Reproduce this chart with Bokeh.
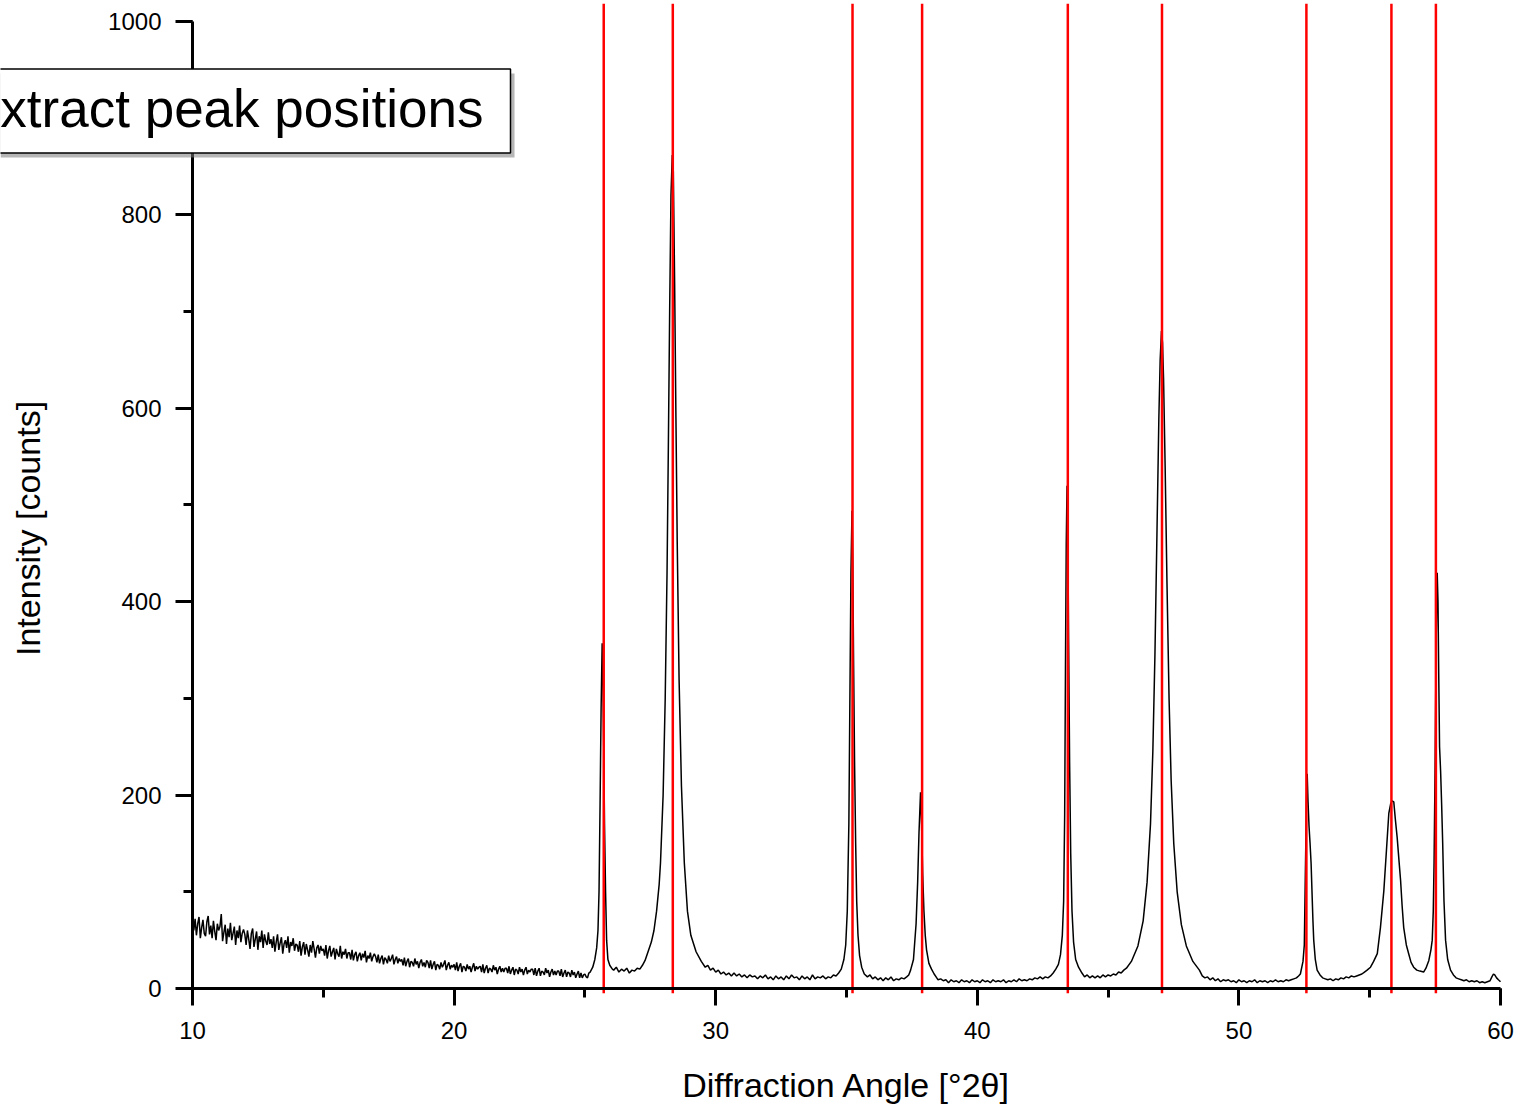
import math
from bokeh.plotting import figure
from bokeh.models import (Label, BoxAnnotation, SingleIntervalTicker,
                          Range1d, LinearAxis)
from bokeh.embed import file_html
from bokeh.resources import INLINE

# ---- data ----
# low-angle background: scan grid starts at 10.00 deg with 0.05 deg steps
low_start = 10.0
low_step = 0.05
low_counts = [
    78,60,72,55,67,74,52,63,71,57,54,69,75,56,65,52,70,59,50,67,
    60,64,77,49,58,66,46,62,53,68,50,57,64,45,60,52,65,48,57,61,
    56,45,60,51,41,57,62,43,51,59,40,54,48,60,42,56,49,45,58,46,
    51,42,54,38,48,56,40,47,53,36,46,50,42,54,37,48,44,52,39,46,
    45,38,49,34,43,48,35,46,40,33,45,37,49,41,32,42,45,36,44,39,
    41,34,45,31,39,44,33,38,42,30,41,36,33,44,31,38,35,41,31,37,
    37,30,40,29,35,38,28,34,37,29,36,32,39,27,34,31,37,28,33,36,
    33,27,35,26,31,34,25,32,30,26,34,28,31,35,25,30,33,26,31,28,
    30,24,32,23,28,31,22,28,27,23,31,25,28,21,27,30,23,27,22,29,
    27,21,29,20,25,28,19,25,24,20,27,22,25,29,19,24,27,20,24,22,
    25,19,27,18,23,26,17,23,22,18,25,20,23,17,22,26,18,23,20,22,
    23,17,25,16,21,24,16,21,20,17,24,19,22,15,20,23,17,21,17,21,
    21,16,23,15,19,22,14,20,19,15,22,17,20,14,19,22,15,19,17,20,
    20,14,21,13,18,21,13,18,17,14,21,16,19,12,17,20,14,18,14,18,
    18,13,20,12,16,19,12,17,16,12,19,14,17,11,15,18,11,16,11,14,
    15,12,11,16,17,
]
# (angle [deg 2theta], intensity [counts]) from 25.3 deg on
scan_25_30 = [
    (25.30,22),(25.38,30),(25.45,42),(25.50,60),(25.54,100),(25.58,190),(25.62,290),(25.66,357),
    (25.69,320),(25.72,250),(25.75,170),(25.79,100),(25.83,50),(25.88,30),(25.95,24),(26.05,20),
    (26.1,19),(26.2,22),(26.3,17),(26.4,20),(26.5,18),(26.6,21),(26.7,16),(26.8,19),(26.9,18),
    (27.0,21),(27.1,20),(27.2,24),
    (27.30,29),(27.44,40),(27.54,48),(27.64,60),(27.74,80),(27.84,108),(27.89,130),(27.99,200),
    (28.07,300),(28.14,430),(28.19,560),(28.24,700),(28.29,820),(28.34,862),(28.38,845),(28.43,730),
    (28.48,590),(28.53,460),(28.60,320),(28.69,210),(28.80,130),(28.92,80),(29.05,55),(29.25,38),
    (29.45,28),
]
scan_30_39 = [
    (29.6,22),(29.7,24),(29.8,19),(29.9,21),(30.0,17),(30.1,19),(30.2,15),(30.3,17),(30.4,14),(30.5,16),
    (30.6,13),(30.7,16),(30.8,13),(30.9,15),(31.0,12),(31.1,14),(31.2,11),(31.3,14),(31.4,12),(31.5,13),
    (31.6,10),(31.7,13),(31.8,11),(31.9,14),(32.0,10),(32.1,12),(32.2,9),(32.3,13),(32.4,10),(32.5,12),
    (32.6,9),(32.7,13),(32.8,10),(32.9,14),(33.0,11),(33.1,12),(33.2,9),(33.3,13),(33.4,10),(33.5,12),
    (33.6,9),(33.7,14),(33.8,10),(33.9,12),(34.0,11),(34.1,13),(34.2,10),(34.3,12),(34.4,11),(34.5,14),
    (34.6,13),(34.7,16),
    (34.80,20),(34.90,30),(34.97,45),(35.03,80),(35.09,170),(35.13,300),(35.17,430),(35.21,494),
    (35.24,440),(35.27,340),(35.31,230),(35.35,150),(35.39,90),(35.44,55),(35.50,34),(35.58,22),
    (35.68,15),
    (35.8,12),(35.9,14),(36.0,10),(36.1,12),(36.2,9),(36.3,11),(36.4,8),(36.5,11),(36.6,9),(36.7,12),
    (36.8,8),(36.9,10),(37.0,9),(37.1,11),(37.2,10),(37.3,12),(37.38,14),
    (37.45,19),(37.56,30),(37.66,67),(37.72,110),(37.77,160),(37.83,203),(37.87,170),(37.91,120),
    (37.96,80),(38.01,55),(38.06,40),(38.15,26),(38.25,20),(38.35,15),
]
scan_38_49 = [
    (38.45,11),(38.5,9),(38.6,10),(38.7,8),(38.8,9),(38.9,6),(39.0,9),(39.1,7),(39.2,8),(39.3,6),
    (39.4,9),(39.5,7),(39.6,8),(39.7,6),(39.8,9),(39.9,7),(40.0,8),(40.1,6),(40.2,9),(40.3,7),
    (40.4,8),(40.5,6),(40.6,9),(40.7,7),(40.8,8),(40.9,7),(41.0,9),(41.1,6),(41.2,8),(41.3,7),
    (41.4,9),(41.5,7),(41.6,10),(41.7,8),(41.8,9),(41.9,8),(42.0,10),(42.1,9),(42.2,11),(42.3,10),
    (42.4,12),(42.5,10),(42.6,12),(42.7,11),(42.8,13),(42.9,16),
    (43.00,20),(43.10,25),(43.18,35),(43.25,55),(43.30,90),(43.34,180),(43.37,330),(43.40,460),
    (43.43,520),(43.46,470),(43.49,360),(43.53,230),(43.57,140),(43.62,80),(43.68,48),(43.76,30),
    (43.87,22),(44.00,16),
    (44.1,12),(44.2,14),(44.3,11),(44.4,13),(44.5,11),(44.6,13),(44.7,11),(44.8,14),(44.9,12),
    (45.0,14),(45.1,13),(45.2,15),(45.3,14),(45.4,17),(45.5,16),(45.6,19),(45.7,21),
    (45.89,28),(46.14,44),(46.34,70),(46.49,110),(46.62,170),(46.71,245),(46.79,345),(46.87,475),
    (46.94,590),(46.99,650),(47.04,680),(47.08,668),(47.12,630),(47.18,540),(47.25,420),(47.33,300),
    (47.41,215),(47.51,150),(47.64,100),(47.80,66),(47.99,44),(48.24,28),(48.49,19),
]
scan_48_60 = [
    (48.6,13),(48.7,11),(48.8,12),(48.9,9),(49.0,11),(49.1,8),(49.2,10),(49.3,7),(49.4,9),(49.5,8),
    (49.6,9),(49.7,7),(49.8,8),(49.9,6),(50.0,9),(50.1,7),(50.2,8),(50.3,6),(50.4,8),(50.5,7),
    (50.6,9),(50.7,6),(50.8,8),(50.9,7),(51.0,8),(51.1,6),(51.2,8),(51.3,7),(51.4,9),(51.5,7),
    (51.6,8),(51.7,7),(51.8,9),(51.9,8),(52.0,9),(52.1,10),(52.2,11),(52.28,13),
    (52.35,15),(52.45,28),(52.50,45),(52.54,119),(52.58,190),(52.61,222),(52.64,195),(52.68,168),
    (52.72,150),(52.76,129),(52.80,95),(52.83,70),(52.86,50),(52.92,30),(52.99,19),(53.10,14),
    (53.2,11),(53.3,10),(53.4,9),(53.5,10),(53.6,8),(53.7,10),(53.8,9),(53.9,11),(54.0,10),
    (54.1,12),(54.2,11),(54.3,13),(54.4,12),(54.5,13),(54.6,14),(54.7,15),(54.8,17),(54.9,19),
    (55.03,22),(55.15,28),(55.29,36),(55.41,63),(55.54,101),(55.64,143),(55.73,181),(55.80,191),
    (55.86,194),(55.92,193),(55.98,175),(56.05,156),(56.12,132),(56.18,112),(56.24,85),(56.30,63),
    (56.40,45),(56.49,36),(56.58,27),(56.68,22),(56.80,19),(56.92,18),
    (57.06,17),(57.15,21),(57.26,29),(57.34,40),(57.39,50),(57.43,80),(57.46,130),(57.50,230),
    (57.54,360),(57.58,430),(57.61,400),(57.64,320),(57.67,250),(57.71,225),(57.75,190),(57.79,150),
    (57.84,90),(57.90,50),(57.98,30),(58.09,19),(58.20,14),
    (58.3,11),(58.4,10),(58.5,9),(58.6,8),(58.7,9),(58.8,7),(58.9,8),(59.0,7),(59.1,8),(59.2,6),
    (59.3,7),(59.4,6),(59.5,7),(59.6,8),(59.67,12),(59.73,15),(59.78,14),(59.85,11),(59.92,9),(60.0,7),
]
peak_positions = [25.72, 28.36, 35.23, 37.89, 43.46, 47.06, 52.58, 55.83, 57.53]

x_title = "Diffraction Angle [°2θ]"
y_title = "Intensity [counts]"
box_text = "Extract peak positions"

scan = scan_25_30 + scan_30_39 + scan_38_49 + scan_48_60
two_theta = [round(low_start + i * low_step, 2) for i in range(len(low_counts))] + [a for a, _ in scan]
counts = list(low_counts) + [c for _, c in scan]

FONT = "Liberation Sans"
Y_MAX = 1018.6
Y_MIN = -123.06   # plot area reaches the bottom edge; x axis is pinned at 0
X_MIN = 2.661     # plot area reaches the left edge; y axis is pinned at 10
X_MAX = 60.917    # plot area reaches the right edge

p = figure(width=1524, height=1107,
           x_range=Range1d(X_MIN, X_MAX), y_range=Range1d(Y_MIN, Y_MAX),
           x_axis_location=None, y_axis_location=None,
           output_backend="svg", toolbar_location=None,
           min_border_left=0, min_border_right=0,
           min_border_top=3, min_border_bottom=0)
p.grid.visible = False
p.outline_line_color = None
p.background_fill_color = "white"
p.border_fill_color = "white"

xaxis = LinearAxis(fixed_location=0)
yaxis = LinearAxis(fixed_location=10)
p.add_layout(xaxis, "below")
p.add_layout(yaxis, "left")

p.line(two_theta, counts, line_color="black", line_width=1.5)

# red markers at the extracted peak positions
p.segment(x0=peak_positions, y0=[-5] * len(peak_positions),
          x1=peak_positions, y1=[Y_MAX] * len(peak_positions),
          line_color="#ff0000", line_width=2.5)

xaxis.ticker = SingleIntervalTicker(interval=10, num_minor_ticks=2)
yaxis.ticker = SingleIntervalTicker(interval=200, num_minor_ticks=2)
xaxis.bounds = (10, 60)
yaxis.bounds = (0, 1000)
for ax in (xaxis, yaxis):
    ax.axis_line_width = 3
    ax.axis_line_color = "black"
    ax.major_tick_line_width = 3
    ax.minor_tick_line_width = 3
    ax.major_tick_line_color = "black"
    ax.minor_tick_line_color = "black"
    ax.major_tick_in = 0
    ax.major_tick_out = 17
    ax.minor_tick_in = 0
    ax.minor_tick_out = 9
    ax.major_label_text_font = FONT
    ax.major_label_text_font_size = "24px"
    ax.major_label_text_color = "black"
xaxis.major_label_standoff = 17
yaxis.major_label_standoff = 14

# axis titles
p.add_layout(Label(x=35.0, y=-100.3, text=x_title,
                   text_align="center", text_baseline="middle",
                   text_font=FONT, text_font_size="34px", text_color="black"))
p.add_layout(Label(x=3.731, y=475.7, text=y_title, angle=math.pi / 2,
                   text_align="center", text_baseline="middle",
                   text_font=FONT, text_font_size="34px", text_color="black"))

# callout box with drop shadow, drawn over the y axis
p.add_layout(BoxAnnotation(right=22.31, top=946.2, bottom=859.3,
                           fill_color="#7a7a7a", fill_alpha=0.55,
                           line_color=None))
p.add_layout(Label(x=22.156, y=907.4, text=box_text,
                   text_align="right", text_baseline="middle",
                   text_font=FONT, text_font_size="53px", text_color="black",
                   background_fill_color="white",
                   border_line_color="black", border_line_width=1.5,
                   padding=dict(left=27, right=27, top=10, bottom=15)))

open("out.html", "w").write(file_html(p, INLINE))
